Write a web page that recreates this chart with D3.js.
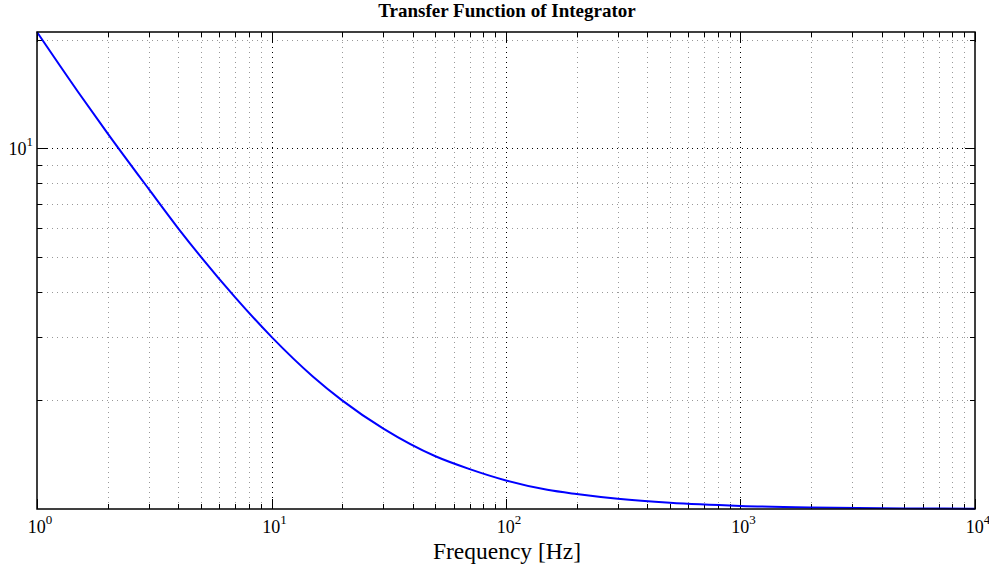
<!DOCTYPE html>
<html>
<head>
<meta charset="utf-8">
<script src="https://cdn.jsdelivr.net/npm/d3@7"></script>
<style>
  body { margin: 0; background: #fff; }
</style>
</head>
<body>
<svg id="chart"></svg>
<script>
// frequency points (Hz) and magnitude
var freqs = [1, 1.5, 2, 3, 4, 5, 7, 10, 15, 20, 30, 50, 70, 100, 150, 200, 300, 500, 1000, 2000, 5000, 10000];
var mags = [21, 14.3, 11, 7.7, 6, 5, 3.86, 3, 2.33, 2, 1.67, 1.4, 1.29, 1.2, 1.13, 1.1, 1.067, 1.04, 1.02, 1.01, 1.004, 1.002];

var xTickValues = [1, 10, 100, 1000, 10000];
var xTickExps = ['0', '1', '2', '3', '4'];
var yTickValues = [10];
var yTickExps = ['1'];

var titleText = 'Transfer Function of Integrator';
var xLabelText = 'Frequency [Hz]';

var FONT = '"Liberation Serif", "Times New Roman", Times, "DejaVu Serif", serif';

var width = 989;
var height = 567;
var margin = { top: 32, right: 14, bottom: 58, left: 37 };

var svg = d3.select('#chart')
  .attr('width', width)
  .attr('height', height)
  .style('display', 'block');

var plotW = width - margin.left - margin.right;
var plotH = height - margin.top - margin.bottom;

var xScale = d3.scaleLog()
  .domain([1, 10000])
  .range([margin.left, margin.left + plotW]);

var yScale = d3.scaleLog()
  .domain([1, 21])
  .range([margin.top + plotH, margin.top]);

var plotTop = margin.top, plotBottom = margin.top + plotH;
var plotLeft = margin.left, plotRight = margin.left + plotW;

// minor/major grid values
var xMinor = [];
for (var d = 1; d < 10000; d *= 10) {
  for (var k = 2; k < 10; k++) xMinor.push(d * k);
}
var yMinor = [2, 3, 4, 5, 6, 7, 8, 9, 20];

function px(v) { return Math.round(v) + 0.5; }

var grid = svg.append('g');

function vGrid(vals, color) {
  grid.selectAll(null)
    .data(vals)
    .enter().append('line')
      .attr('x1', function(d) { return px(xScale(d)); })
      .attr('x2', function(d) { return px(xScale(d)); })
      .attr('y1', plotTop)
      .attr('y2', plotBottom)
      .attr('stroke', color)
      .attr('stroke-width', 1)
      .attr('stroke-dasharray', '1,4');
}
function hGrid(vals, color) {
  grid.selectAll(null)
    .data(vals)
    .enter().append('line')
      .attr('y1', function(d) { return px(yScale(d)); })
      .attr('y2', function(d) { return px(yScale(d)); })
      .attr('x1', plotLeft)
      .attr('x2', plotRight)
      .attr('stroke', color)
      .attr('stroke-width', 1)
      .attr('stroke-dasharray', '1,4');
}
vGrid(xMinor, '#999');
hGrid(yMinor, '#999');
vGrid(xTickValues.slice(1, -1), '#000');
hGrid(yTickValues, '#000');

// ticks on all four sides, pointing inward
var ticks = svg.append('g').attr('stroke', '#000').attr('stroke-width', 1);

function addXTicks(vals, len) {
  vals.forEach(function(v) {
    var x = px(xScale(v));
    ticks.append('line').attr('x1', x).attr('x2', x).attr('y1', plotBottom).attr('y2', plotBottom - len);
    ticks.append('line').attr('x1', x).attr('x2', x).attr('y1', plotTop).attr('y2', plotTop + len);
  });
}
function addYTicks(vals, len) {
  vals.forEach(function(v) {
    var y = px(yScale(v));
    ticks.append('line').attr('y1', y).attr('y2', y).attr('x1', plotLeft).attr('x2', plotLeft + len);
    ticks.append('line').attr('y1', y).attr('y2', y).attr('x1', plotRight).attr('x2', plotRight - len);
  });
}
addXTicks(xTickValues, 10);
addXTicks(xMinor, 5);
addYTicks(yTickValues, 10);
addYTicks(yMinor, 5);

// curve
var line = d3.line()
  .x(function(d) { return xScale(d[0]); })
  .y(function(d) { return yScale(d[1]); })
  .curve(d3.curveMonotoneX);

var pts = freqs.map(function(f, i) { return [f, mags[i]]; });

svg.append('defs').append('clipPath').attr('id', 'clip')
  .append('rect')
    .attr('x', plotLeft - 1).attr('y', plotTop - 1)
    .attr('width', plotW + 2).attr('height', plotH + 2);

svg.append('path')
  .datum(pts)
  .attr('clip-path', 'url(#clip)')
  .attr('d', line)
  .attr('fill', 'none')
  .attr('stroke', '#0000ff')
  .attr('stroke-width', 2);

// axes box
svg.append('rect')
  .attr('x', plotLeft).attr('y', plotTop)
  .attr('width', plotW).attr('height', plotH)
  .attr('fill', 'none')
  .attr('stroke', '#000')
  .attr('stroke-width', 1.5);

// x tick labels (10^n)
xTickValues.forEach(function(v, i) {
  var t = svg.append('text')
    .attr('x', xScale(v) + 3)
    .attr('y', plotBottom + 24)
    .attr('text-anchor', 'middle')
    .attr('font-family', FONT)
    .attr('font-size', 18);
  t.append('tspan').text('10');
  t.append('tspan').attr('dy', -9).attr('font-size', 13).text(xTickExps[i]);
});

// y tick labels
yTickValues.forEach(function(v, i) {
  var t = svg.append('text')
    .attr('x', plotLeft - 4)
    .attr('y', yScale(v) + 7)
    .attr('text-anchor', 'end')
    .attr('font-family', FONT)
    .attr('font-size', 18);
  t.append('tspan').text('10');
  t.append('tspan').attr('dy', -9).attr('font-size', 13).text(yTickExps[i]);
});

svg.append('text')
  .attr('x', 507)
  .attr('y', 559)
  .attr('text-anchor', 'middle')
  .attr('font-family', FONT)
  .attr('font-size', 23.5)
  .text(xLabelText);

svg.append('text')
  .attr('x', 507)
  .attr('y', 17)
  .attr('text-anchor', 'middle')
  .attr('font-family', FONT)
  .attr('font-size', 19)
  .attr('font-weight', 'bold')
  .text(titleText);
</script>
</body>
</html>
